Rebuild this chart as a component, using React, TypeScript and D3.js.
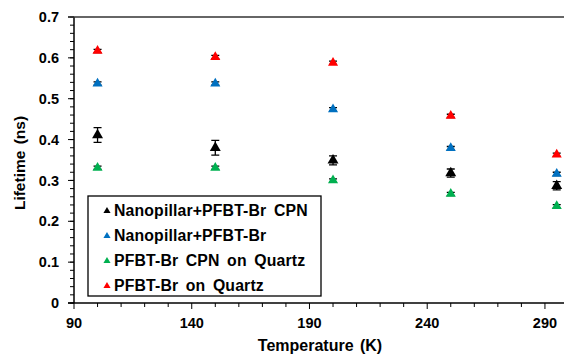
import { useEffect, useRef } from 'react';
import * as d3 from 'd3';

const temperatures = [100, 150, 200, 250, 295];
const seriesNames = [
  'Nanopillar+PFBT-Br CPN',
  'Nanopillar+PFBT-Br',
  'PFBT-Br CPN on Quartz',
  'PFBT-Br on Quartz',
];
const seriesColors = ['#000000', '#0070c0', '#00b050', '#ff0000'];
const nanopillarCpn = [0.411, 0.38, 0.349, 0.318, 0.287];
const nanopillarCpnErr = [0.018, 0.018, 0.011, 0.01, 0.01];
const nanopillar = [0.537, 0.537, 0.474, 0.379, 0.316];
const cpnQuartz = [0.331, 0.331, 0.3, 0.267, 0.237];
const filmQuartz = [0.617, 0.602, 0.588, 0.458, 0.363];
const smallErr = [0.004, 0.004, 0.004, 0.004, 0.004];
const xTicks = [90, 140, 190, 240, 290];
const yTicks = [0, 0.1, 0.2, 0.3, 0.4, 0.5, 0.6, 0.7];

export default function App() {
  const svgRef = useRef<SVGSVGElement>(null);
  const width = 564;
  const height = 354;

  useEffect(() => {
    if (!svgRef.current) return;
    const svg = d3.select(svgRef.current);
    svg.selectAll('*').remove();
    const font = '"Liberation Sans", Arial, sans-serif';

    const x = d3.scaleLinear().domain([90, 300]).range([74, 568.5]);
    const y = d3.scaleLinear().domain([0, 0.7]).range([303, 17]);

    // minor ticks
    const minorY = d3.range(0, 0.701, 0.02);
    svg.append('g').selectAll('line').data(minorY).enter().append('line')
      .attr('x1', 70).attr('x2', 74)
      .attr('y1', (d) => y(d)).attr('y2', (d) => y(d))
      .attr('stroke', '#000').attr('stroke-width', 1);
    svg.append('g').selectAll('line').data(yTicks).enter().append('line')
      .attr('x1', 68).attr('x2', 74)
      .attr('y1', (d) => y(d)).attr('y2', (d) => y(d))
      .attr('stroke', '#000').attr('stroke-width', 1);
    const minorX = d3.range(90, 301, 10);
    svg.append('g').selectAll('line').data(minorX).enter().append('line')
      .attr('x1', (d) => x(d)).attr('x2', (d) => x(d))
      .attr('y1', 303).attr('y2', (d) => ((d - 90) % 50 === 0 ? 309 : 307))
      .attr('stroke', '#000').attr('stroke-width', 1);

    // axes lines + top border
    svg.append('line').attr('x1', 74).attr('x2', 74).attr('y1', 17).attr('y2', 303)
      .attr('stroke', '#000').attr('stroke-width', 1.5);
    svg.append('line').attr('x1', 68).attr('x2', 568).attr('y1', 303).attr('y2', 303)
      .attr('stroke', '#000').attr('stroke-width', 1.5);
    svg.append('line').attr('x1', 68).attr('x2', 568).attr('y1', 17).attr('y2', 17)
      .attr('stroke', '#333').attr('stroke-width', 1.5);

    // tick labels
    svg.append('g').selectAll('text').data(yTicks).enter().append('text')
      .attr('x', 59).attr('y', (d) => y(d)).attr('dy', '0.35em')
      .attr('text-anchor', 'end').attr('font-family', font).attr('font-weight', 'bold')
      .attr('font-size', 14.5).text((d) => (d === 0 ? '0' : d.toFixed(1)));
    svg.append('g').selectAll('text').data(xTicks).enter().append('text')
      .attr('x', (d) => x(d)).attr('y', 328)
      .attr('text-anchor', 'middle').attr('font-family', font).attr('font-weight', 'bold')
      .attr('font-size', 14.5).text((d) => String(d));

    // axis titles
    svg.append('text').attr('x', 320).attr('y', 351).attr('text-anchor', 'middle')
      .attr('font-family', font).attr('font-weight', 'bold').attr('font-size', 16)
      .attr('word-spacing', 2)
      .text('Temperature (K)');
    svg.append('text').attr('transform', 'translate(25,163) rotate(-90)')
      .attr('text-anchor', 'middle')
      .attr('font-family', font).attr('font-weight', 'bold').attr('font-size', 15.5)
      .attr('word-spacing', 2)
      .text('Lifetime (ns)');

    const series = [
      { vals: nanopillarCpn, err: nanopillarCpnErr },
      { vals: nanopillar, err: smallErr },
      { vals: cpnQuartz, err: smallErr },
      { vals: filmQuartz, err: smallErr },
    ];
    const tri = d3.symbol().type(d3.symbolTriangle);

    series.forEach((s, i) => {
      const g = svg.append('g');
      const pts = temperatures.map((t, j) => ({ t, v: s.vals[j], e: s.err[j] }));
      // error bars
      g.selectAll('path.err').data(pts).enter().append('path')
        .attr('d', (d) => {
          const cx = x(d.t);
          const y1 = y(d.v + d.e);
          const y2 = y(d.v - d.e);
          return `M${cx - 4},${y1}H${cx + 4}M${cx},${y1}V${y2}M${cx - 4},${y2}H${cx + 4}`;
        })
        .attr('stroke', '#000').attr('stroke-width', 1.3).attr('fill', 'none');
      g.selectAll('path.pt').data(pts).enter().append('path')
        .attr('d', tri.size(i === 0 ? 52 : 44)())
        .attr('transform', (d) => `translate(${x(d.t)},${y(d.v)})`)
        .attr('fill', seriesColors[i]);
    });

    // legend
    const lg = svg.append('g');
    lg.append('rect').attr('x', 88).attr('y', 196).attr('width', 233).attr('height', 100)
      .attr('fill', '#fff').attr('stroke', '#000').attr('stroke-width', 1.3);
    seriesNames.forEach((name, i) => {
      const cy = 210 + i * 25;
      lg.append('path').attr('d', tri.size(22)())
        .attr('transform', `translate(107,${cy + 1})`).attr('fill', seriesColors[i]);
      lg.append('text').attr('x', 114).attr('y', cy).attr('dy', '0.35em')
        .attr('font-family', font).attr('font-weight', 'bold').attr('font-size', 15.8)
        .attr('word-spacing', 3).attr('letter-spacing', 0.15)
        .text(name);
    });
  }, []);

  return (
    <svg
      ref={svgRef}
      width={width}
      height={height}
      style={{ position: 'absolute', left: 0, top: 0, background: '#fff' }}
    />
  );
}
